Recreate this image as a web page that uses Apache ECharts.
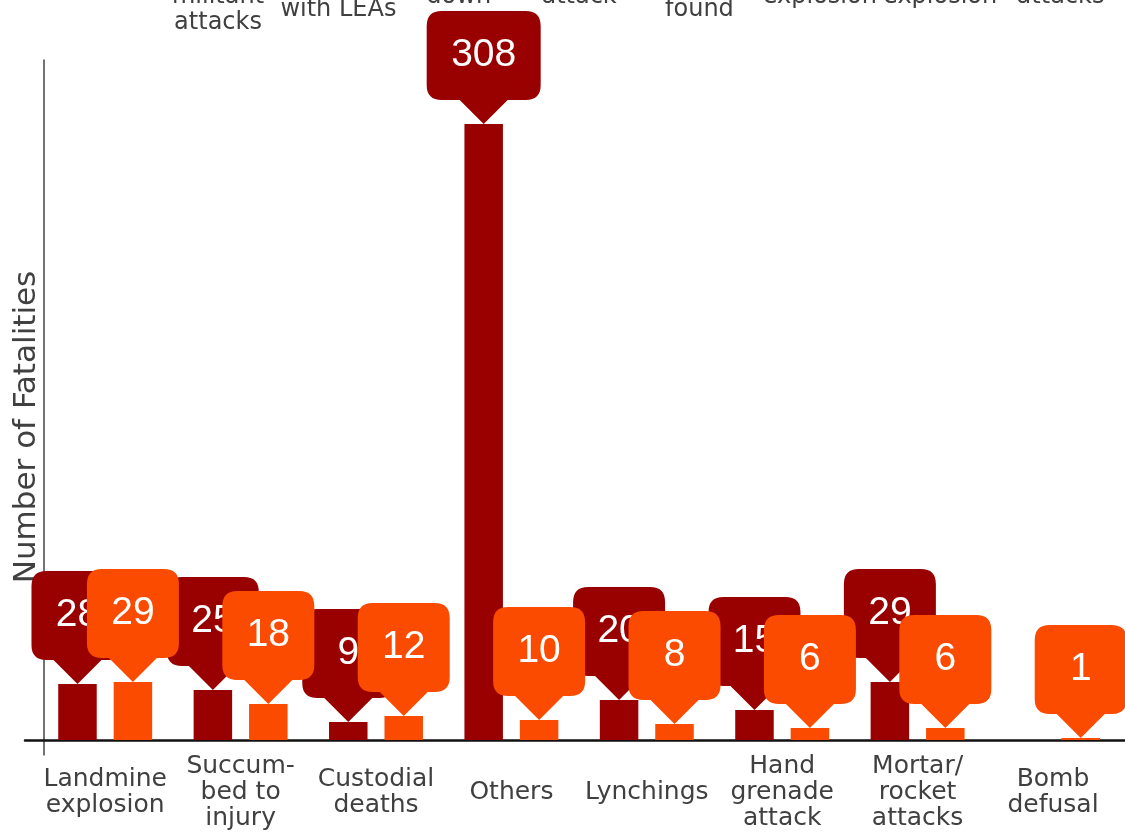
<!DOCTYPE html>
<html>
<head>
<meta charset="utf-8">
<title>Number of Fatalities</title>
<script src="https://cdn.jsdelivr.net/npm/echarts@6/dist/echarts.min.js"></script>
<style>
    body{
        margin: 0;
        background: #ffffff;
    }
    #chart{
        width: 1125px;
        height: 834px;
    }
</style>
</head>
<body>
<div id="chart"></div>
<script>
// categories of this chart, and the cut-off labels of the chart above it
var categories = ['Landmine\nexplosion', 'Succum-\nbed to\ninjury', 'Custodial\ndeaths', 'Others',
    'Lynchings', 'Hand\ngrenade\nattack', 'Mortar/\nrocket\nattacks', 'Bomb\ndefusal']
var darkValues = [28, 25, 9, 308, 20, 15, 29, null]
var orangeValues = [29, 18, 12, 10, 8, 6, 6, 1]
var upperLabels = ['', '\nmilitant\nattacks', '\nwith LEAs', 'down', 'attack', '\nfound',
    'explosion', 'explosion', 'attacks']

var DARK = '#990000'
var ORANGE = '#fa4b00'
var TEXT = '#404040'
var FONT = 'DejaVu Sans'

// rounded box with a pointer underneath, tip at the bottom centre
function pinPath(w) {
    var r = 15, h = 89, c = w / 2
    return 'path://M' + r + ',0 L' + (w - r) + ',0 Q' + w + ',0 ' + w + ',' + r +
        ' L' + w + ',' + (h - r) + ' Q' + w + ',' + h + ' ' + (w - r) + ',' + h +
        ' L' + (c + 24) + ',' + h + ' L' + c + ',' + (h + 24) + ' L' + (c - 24) + ',' + h +
        ' L' + r + ',' + h + ' Q0,' + h + ' 0,' + (h - r) + ' L0,' + r + ' Q0,0 ' + r + ',0 Z'
}

function pins(values) {
    var list = []
    for (var i = 0; i < values.length; i++) {
        if (values[i] == null) continue
        var w = String(values[i]).length > 2 ? 114 : 92
        list.push({
            coord: [i, values[i]],
            value: values[i],
            symbol: pinPath(w),
            symbolSize: [w, 113]
        })
    }
    return list
}

function barSeries(name, values, color, z) {
    return {
        name: name,
        type: 'bar',
        data: values,
        barWidth: 38.5,
        barGap: '44%',
        itemStyle: { color: color },
        silent: true,
        markPoint: {
            z: z,
            silent: true,
            symbolOffset: [0, '-50%'],
            itemStyle: { color: color },
            label: {
                show: true,
                position: 'inside',
                offset: [0, -12],
                color: '#ffffff',
                fontSize: 39,
                fontFamily: 'Liberation Sans',
                formatter: '{c}'
            },
            data: pins(values)
        }
    }
}

var chart = echarts.init(document.getElementById('chart'))
var option = {
    animation: false,
    backgroundColor: '#ffffff',
    grid: [
        { left: 37.5, right: 4.3, top: 60, bottom: 79, outerBoundsMode: 'none' },
        // chart above, only its labels reach into view
        { left: 37.5, right: 4.3, top: -400, bottom: 889, outerBoundsMode: 'none' },
        // long baseline
        { left: 25, right: 0, top: 60, bottom: 94, outerBoundsMode: 'none' }
    ],
    xAxis: [
        {
            gridIndex: 0,
            type: 'category',
            data: categories,
            axisLine: { show: false },
            axisTick: { show: false },
            axisLabel: {
                interval: 0,
                margin: 37,
                verticalAlign: 'middle',
                color: TEXT,
                fontFamily: FONT,
                fontSize: 25,
                lineHeight: 26
            }
        },
        {
            gridIndex: 1,
            type: 'category',
            data: upperLabels,
            axisLine: { show: false },
            axisTick: { show: false },
            axisLabel: {
                interval: 0,
                margin: 52,
                verticalAlign: 'middle',
                color: TEXT,
                fontFamily: FONT,
                fontSize: 24,
                lineHeight: 26
            }
        },
        {
            gridIndex: 2,
            type: 'value',
            min: 0,
            max: 1,
            axisLine: { show: true, onZero: false, lineStyle: { color: '#111111', width: 2.5 } },
            axisTick: { show: false },
            axisLabel: { show: false },
            splitLine: { show: false }
        }
    ],
    yAxis: [
        {
            gridIndex: 0,
            type: 'value',
            min: -7.5,
            max: 340,
            offset: -6,
            name: 'Number of Fatalities',
            nameLocation: 'middle',
            nameGap: 1,
            nameTextStyle: {
                color: TEXT,
                fontFamily: FONT,
                fontSize: 31,
                padding: [0, 39, 0, 0]
            },
            axisLine: { show: true, lineStyle: { color: '#444444', width: 1.5 } },
            axisTick: { show: false },
            axisLabel: { show: false },
            splitLine: { show: false }
        },
        { gridIndex: 1, type: 'value', show: false },
        { gridIndex: 2, type: 'value', show: false }
    ],
    series: [
        barSeries('A', darkValues, DARK, 5),
        barSeries('B', orangeValues, ORANGE, 6)
    ]
}
chart.setOption(option)
</script>
</body>
</html>
